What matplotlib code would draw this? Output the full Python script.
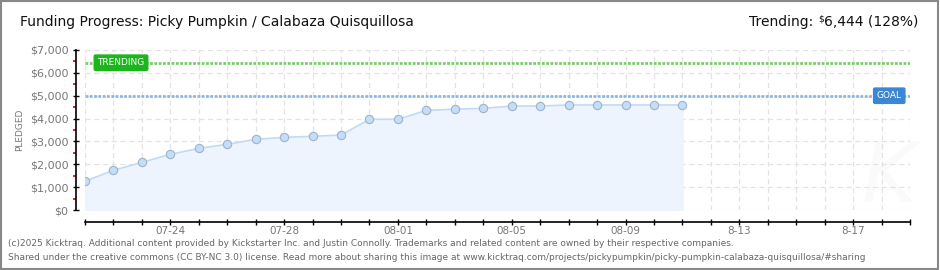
import numpy as np
import matplotlib
matplotlib.use('Agg')
import matplotlib.pyplot as plt
import matplotlib.dates as mdates
import matplotlib.transforms as mtransforms
from matplotlib.patches import Rectangle

# data
dates = np.arange('2025-07-21', '2025-08-12', dtype='datetime64[D]')
pledged = [1256, 1737, 2085, 2436, 2698, 2873, 3092, 3179, 3223, 3281, 3967,
           3967, 4360, 4410, 4448, 4550, 4550, 4594, 4594, 4594, 4594, 4594]
goal = 5000
trending = 6444
x_start = np.datetime64('2025-07-21')
x_end = np.datetime64('2025-08-19')
tick_dates = np.array(['2025-07-24', '2025-07-28', '2025-08-01', '2025-08-05',
                       '2025-08-09', '2025-08-13', '2025-08-17'], dtype='datetime64[D]')
tick_labels = ['07-24', '07-28', '08-01', '08-05', '08-09', '8-13', '8-17']
y_ticks = [0, 1000, 2000, 3000, 4000, 5000, 6000, 7000]
y_labels = ['$0', '$1,000', '$2,000', '$3,000', '$4,000', '$5,000', '$6,000', '$7,000']

fig = plt.figure(figsize=(9.4, 2.7), dpi=100)
fig.patch.set_facecolor('white')
ax = fig.add_axes([85 / 940, 60 / 270, 825 / 940, 160 / 270])

xd = dates.astype('O')
ax.fill_between(xd, pledged, 0, color='#edf4fd', zorder=1)
ax.plot(xd, pledged, '-', color='#c3daf3', lw=1.2, zorder=3)
ax.plot(xd, pledged, 'o', ms=6, mfc='#c4ddf8', mec='#9fb3c8', mew=0.8, zorder=4)

ax.axhline(goal, color='#8ab8e6', lw=2.0, ls=(0, (1.0, 0.55)), zorder=2)
ax.axhline(trending, color='#7acc6a', lw=2.0, ls=(0, (1.0, 0.55)), zorder=2)

trans = mtransforms.blended_transform_factory(ax.transAxes, ax.transData)
ax.text(0.015, trending, 'TRENDING', transform=trans, ha='left', va='center',
        fontsize=6.5, color='white', zorder=5,
        bbox=dict(boxstyle='round,pad=0.35,rounding_size=0.15', fc='#1cb51c', ec='#1cb51c'))
ax.text(0.99, goal, 'GOAL', transform=trans, ha='right', va='center',
        fontsize=6.5, color='white', zorder=5,
        bbox=dict(boxstyle='round,pad=0.35,rounding_size=0.15', fc='#3b87d6', ec='#3b87d6'))

ax.set_xlim(x_start.astype('O'), x_end.astype('O'))
ax.set_ylim(0, 7000)

ax.xaxis.remove_overlapping_locs = False
ax.xaxis.set_major_locator(mdates.DayLocator())
ax.xaxis.set_major_formatter(plt.NullFormatter())
ax.set_xticks(tick_dates.astype('O'), minor=True)
ax.set_xticklabels(tick_labels, minor=True)
ax.tick_params(axis='x', which='major', direction='inout', length=5, width=1, color='black')
ax.tick_params(axis='x', which='minor', length=0, pad=3, labelsize=7.5, labelcolor='#777777')

ax.set_yticks(y_ticks)
ax.set_yticklabels(y_labels)
ax.set_yticks([500, 1500, 2500, 3500, 4500, 5500, 6500], minor=True)
ax.tick_params(axis='y', which='major', direction='inout', length=5, width=1,
               color='black', labelsize=8, labelcolor='#777777', pad=3)
ax.tick_params(axis='y', which='minor', direction='out', length=2.5, width=1.2, color='#dd0000')

ax.grid(True, which='major', color='#e3e3e3', ls=(0, (4, 3)), lw=0.9)
ax.set_axisbelow(True)

for s in ['top', 'right']:
    ax.spines[s].set_visible(False)
ax.spines['left'].set_position(('outward', 6.5))
ax.spines['bottom'].set_position(('outward', 8.5))
ax.spines['left'].set_linewidth(1.2)
ax.spines['bottom'].set_linewidth(1.2)

ax.set_ylabel('PLEDGED', fontsize=6.5, color='#777777', labelpad=4)

# faint watermark
ax.text(0.975, 0.2, 'K', transform=ax.transAxes, fontsize=60, style='italic',
        color='#fafafa', ha='center', va='center', zorder=0)

fig.text(20 / 940, 1 - 22 / 270, 'Funding Progress: Picky Pumpkin / Calabaza Quisquillosa',
         fontsize=10, color='#111111', va='center', ha='left')
t1 = fig.text(918 / 940, 1 - 22 / 270, '6,444 (128%)',
              fontsize=10, color='#111111', va='center', ha='right')
t2 = plt.Annotation('$', xy=(0, 0.4), xycoords=t1, ha='right', va='bottom',
                    fontsize=6.5, color='#111111')
fig.add_artist(t2)
t3 = plt.Annotation('Trending: ', xy=(0, 0.5), xycoords=(t2, t1), ha='right', va='center',
                    fontsize=10, color='#111111')
fig.add_artist(t3)

fig.text(8 / 940, 1 - 244 / 270,
         '(c)2025 Kicktraq. Additional content provided by Kickstarter Inc. and Justin Connolly. '
         'Trademarks and related content are owned by their respective companies.',
         fontsize=6.5, color='#666666', va='center', ha='left')
fig.text(8 / 940, 1 - 257 / 270,
         'Shared under the creative commons (CC BY-NC 3.0) license. Read more about sharing this image at '
         'www.kicktraq.com/projects/pickypumpkin/picky-pumpkin-calabaza-quisquillosa/#sharing',
         fontsize=6.5, color='#666666', va='center', ha='left')

fig.patches.append(Rectangle((0.001, 0.002), 0.997, 0.995, transform=fig.transFigure,
                             fill=False, ec='#888888', lw=1.5))

fig.savefig('out.png', dpi=100)
